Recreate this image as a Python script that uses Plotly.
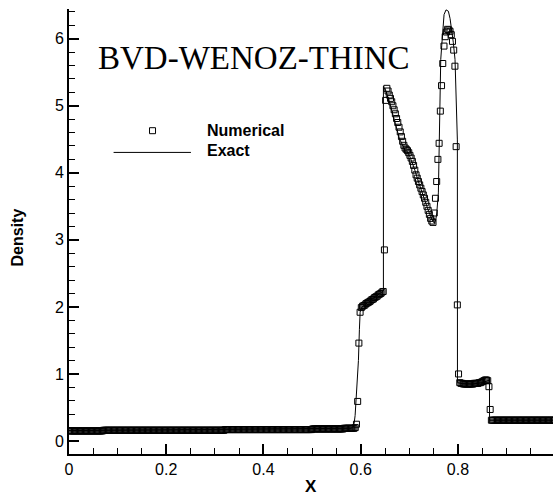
import numpy as np
import plotly.graph_objects as go

# Numerical solution: 400 uniform cells on [0, 1], density at cell centres
n_cells = 400
x_numerical = np.linspace(0.5 / n_cells, 1 - 0.5 / n_cells, n_cells)
rho_numerical = [
    # left low-density region
    0.15, 0.15, 0.15, 0.15, 0.15, 0.15, 0.15, 0.15, 0.15, 0.15,
    0.15, 0.15, 0.15, 0.15, 0.15, 0.15, 0.15, 0.15, 0.15, 0.15,
    0.15, 0.15, 0.15, 0.15, 0.15, 0.15, 0.15, 0.15,
    0.16, 0.16, 0.16, 0.16, 0.16, 0.16, 0.16, 0.16, 0.16, 0.16,
    0.16, 0.16, 0.16, 0.16, 0.16, 0.16, 0.16, 0.16, 0.16, 0.16,
    0.16, 0.16, 0.16, 0.16, 0.16, 0.16, 0.16, 0.16, 0.16, 0.16,
    0.16, 0.16, 0.16, 0.16, 0.16, 0.16, 0.16, 0.16, 0.16, 0.16,
    0.16, 0.16, 0.16, 0.16, 0.16, 0.16, 0.16, 0.16, 0.16, 0.16,
    0.16, 0.16, 0.16, 0.16, 0.16, 0.16, 0.16, 0.16, 0.16, 0.16,
    0.16, 0.16, 0.16, 0.16, 0.16, 0.16, 0.16, 0.16, 0.16, 0.16,
    0.16, 0.16, 0.16, 0.16, 0.16, 0.16, 0.16, 0.16, 0.16, 0.16,
    0.16, 0.16, 0.16, 0.16, 0.16, 0.16, 0.16, 0.16, 0.16, 0.16,
    0.16, 0.16, 0.16, 0.16, 0.16, 0.16, 0.16, 0.16, 0.16, 0.16,
    0.17, 0.17, 0.17, 0.17, 0.17, 0.17, 0.17, 0.17, 0.17, 0.17,
    0.17, 0.17, 0.17, 0.17, 0.17, 0.17, 0.17, 0.17, 0.17, 0.17,
    0.17, 0.17, 0.17, 0.17, 0.17, 0.17, 0.17, 0.17, 0.17, 0.17,
    0.17, 0.17, 0.17, 0.17, 0.17, 0.17, 0.17, 0.17, 0.17, 0.17,
    0.17, 0.17, 0.17, 0.17, 0.17, 0.17, 0.17, 0.17, 0.17, 0.17,
    0.17, 0.17, 0.17, 0.17, 0.17, 0.17, 0.17, 0.17, 0.17, 0.17,
    0.17, 0.17, 0.17, 0.17, 0.17, 0.17, 0.17, 0.17, 0.17, 0.17,
    0.17, 0.17,
    0.18, 0.18, 0.18, 0.18, 0.18, 0.18, 0.18, 0.18, 0.18, 0.18,
    0.18, 0.18, 0.18, 0.18, 0.18, 0.18, 0.18, 0.18, 0.18, 0.18,
    0.18, 0.18, 0.18, 0.18, 0.18, 0.18,
    0.19, 0.19, 0.19, 0.19, 0.19, 0.19, 0.19, 0.19, 0.19,
    0.20,
    # contact near x = 0.59
    0.25, 0.59, 1.46, 1.92,
    # rising shelf
    1.99, 2.01, 2.02, 2.03, 2.05, 2.06, 2.07, 2.08, 2.10, 2.11,
    2.12, 2.14, 2.15, 2.16, 2.18, 2.19, 2.20, 2.22, 2.23,
    # jump near x = 0.65
    2.85, 5.08,
    # decreasing branch
    5.26, 5.22, 5.16, 5.11, 5.06, 5.00, 4.94, 4.88, 4.81, 4.75,
    4.68, 4.61, 4.54, 4.47, 4.41, 4.37, 4.35, 4.33, 4.30, 4.26,
    4.22, 4.17, 4.11, 4.04, 3.97, 3.92, 3.87, 3.82, 3.77, 3.72,
    3.67, 3.62, 3.56, 3.50, 3.44, 3.38, 3.32, 3.28, 3.26,
    # density peak
    3.40, 3.62, 3.87, 4.20, 4.44, 4.92, 5.30, 5.63, 5.89, 6.03,
    6.10, 6.14, 6.13, 6.11, 6.06, 5.96, 5.83, 5.59, 4.39, 2.03,
    1.00,
    # shelf between x = 0.80 and 0.865
    0.87, 0.86, 0.86, 0.85, 0.85, 0.85, 0.85, 0.85, 0.85, 0.85,
    0.85, 0.85, 0.86, 0.86, 0.86, 0.86, 0.87, 0.87, 0.88, 0.89,
    0.90, 0.91, 0.91, 0.90,
    # right shock
    0.81, 0.47,
    # undisturbed right region
    0.31, 0.31, 0.31, 0.31, 0.31, 0.31, 0.31, 0.31, 0.31, 0.31,
    0.31, 0.31, 0.31, 0.31, 0.31, 0.31, 0.31, 0.31, 0.31, 0.31,
    0.31, 0.31, 0.31, 0.31, 0.31, 0.31, 0.31, 0.31, 0.31, 0.31,
    0.31, 0.31, 0.31, 0.31, 0.31, 0.31, 0.31, 0.31, 0.31, 0.31,
    0.31, 0.31, 0.31, 0.31, 0.31, 0.31, 0.31, 0.31, 0.31, 0.31,
    0.31, 0.31, 0.31,
]
assert len(rho_numerical) == n_cells

# Reference (exact) solution as a polyline
x_exact = [0.0, 0.1, 0.2, 0.3, 0.4, 0.5, 0.58, 0.584, 0.5864, 0.5885,
           0.5905, 0.592, 0.5935, 0.5953, 0.5973, 0.5988, 0.601, 0.6467,
           0.6467, 0.652, 0.66, 0.67, 0.68, 0.69, 0.695, 0.70, 0.71, 0.72,
           0.73, 0.74, 0.748, 0.7515, 0.7545, 0.7564, 0.7597, 0.7612,
           0.7618, 0.7632, 0.7646, 0.7667, 0.7688, 0.7714, 0.7755, 0.7803,
           0.7838, 0.7873, 0.7905, 0.794, 0.7961, 0.7975, 0.7988, 0.7990,
           0.81, 0.83, 0.85, 0.862, 0.8648, 0.8650, 1.0]
rho_exact = [0.155, 0.16, 0.165, 0.17, 0.175, 0.18, 0.19, 0.21, 0.26, 0.38,
             0.62, 0.80, 1.0, 1.2, 1.66, 1.92, 1.99, 2.24,
             5.29, 5.22, 5.03, 4.76, 4.50, 4.36, 4.32, 4.26, 4.07, 3.84,
             3.62, 3.42, 3.28, 3.25, 3.30, 3.40, 3.70, 4.20,
             4.69, 5.29, 5.69, 5.90, 6.18, 6.36, 6.43, 6.41,
             6.30, 6.13, 5.94, 5.69, 5.29, 4.84, 4.49, 0.87,
             0.855, 0.85, 0.87, 0.90, 0.91, 0.31, 0.31]

x_range = [0.0, 0.9955]
y_range = [-0.194, 6.443]

label_font = dict(family="Liberation Sans, Arial, sans-serif", size=16, color="black")
bold_font = dict(family="Liberation Sans, Arial, sans-serif", size=16, color="black", weight="bold")

fig = go.Figure()
fig.add_trace(go.Scatter(
    x=x_exact, y=rho_exact, mode="lines", name="Exact",
    line=dict(color="black", width=1), hoverinfo="skip",
))
fig.add_trace(go.Scatter(
    x=x_numerical, y=rho_numerical, mode="markers", name="Numerical",
    marker=dict(symbol="square-open", size=6, color="black", line=dict(width=1)),
))

axis_common = dict(
    showline=True, linecolor="black", linewidth=2, mirror=False,
    showgrid=False, zeroline=False,
    ticks="inside", ticklen=10, tickwidth=2, tickcolor="black",
    tickfont=label_font,
)
fig.update_xaxes(
    range=x_range, tick0=0, dtick=0.2,
    minor=dict(dtick=0.05, ticks="inside", ticklen=6, tickwidth=1, tickcolor="black"),
    **axis_common,
)
fig.update_yaxes(
    range=y_range, tick0=0, dtick=1,
    minor=dict(dtick=0.2, ticks="inside", ticklen=6, tickwidth=1, tickcolor="black"),
    **axis_common,
)

# Legend drawn inside the plot area
fig.add_shape(type="rect", xref="x", yref="y", xsizemode="pixel", ysizemode="pixel",
              xanchor=0.1718, yanchor=4.628, x0=-3, x1=3, y0=-3, y1=3,
              line=dict(color="black", width=1), fillcolor="rgba(0,0,0,0)")
fig.add_shape(type="line", xref="x", yref="y", x0=0.0917, x1=0.2508, y0=4.304, y1=4.304,
              line=dict(color="black", width=1))

annotations = [
    dict(text="Numerical", x=0.2802, y=4.628, xanchor="left", yanchor="middle", font=bold_font),
    dict(text="Exact", x=0.2802, y=4.33, xanchor="left", yanchor="middle", font=bold_font),
    dict(text="BVD-WENOZ-THINC", x=0.055, y=5.71, xanchor="left", yanchor="middle",
         font=dict(family="Liberation Serif, Times New Roman, serif", size=33, color="black")),
]
for a in annotations:
    fig.add_annotation(xref="x", yref="y", showarrow=False, **a)

# Axis titles
fig.add_annotation(text="X", xref="paper", yref="paper", x=0.5, y=-0.073,
                   xanchor="center", yanchor="middle", showarrow=False,
                   font=dict(family="Liberation Sans, Arial, sans-serif", size=17,
                             color="black", weight="bold"))
fig.add_annotation(text="Density", xref="paper", yref="paper", x=-0.107, y=0.487,
                   xanchor="center", yanchor="middle", showarrow=False, textangle=-90,
                   font=bold_font)

fig.update_layout(
    width=553, height=497,
    margin=dict(l=69, r=0, t=9, b=43, pad=0),
    plot_bgcolor="white", paper_bgcolor="white",
    showlegend=False,
)

fig.write_html("out.html")
